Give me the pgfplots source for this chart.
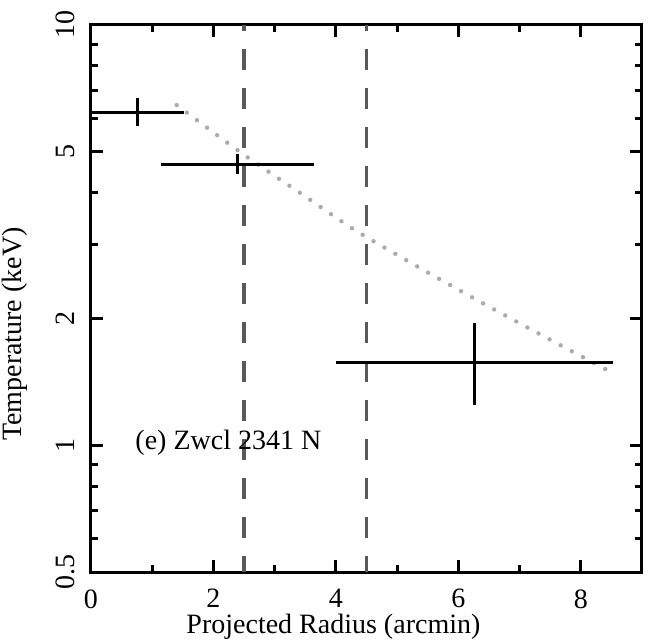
\documentclass[border=0pt]{standalone}
\usepackage{fontspec}
\setmainfont{Liberation Serif}
\usepackage{pgfplots}
\pgfplotsset{compat=1.18}
\begin{document}
\fontsize{14}{16}\selectfont
\begin{tikzpicture}
\begin{semilogyaxis}[
  width=275.5pt, height=273.5pt, scale only axis,
  xmin=0, xmax=9, ymin=0.5, ymax=10,
  axis line style={line width=1.5pt},
  every tick/.style={line width=1.5pt, black},
  major tick length=6pt, minor tick length=3.5pt,
  tick align=inside,
  xtick={0,2,4,6,8}, minor xtick={1,3,5,7},
  ytick={0.5,1,2,5,10}, yticklabels={0.5,1,2,5,10},
  minor ytick={0.6,0.7,0.8,0.9,3,4,6,7,8,9},
  /pgf/number format/assume math mode=true,
  tick label style={font=\fontsize{14}{16}\selectfont},
  xticklabel style={inner sep=0pt, anchor=north, yshift=-8.5pt},
  yticklabel style={xshift=-8pt, rotate=90, anchor=south, inner sep=0pt},
  label style={font=\fontsize{14}{16}\selectfont},
  xlabel={Projected Radius (arcmin)},
  ylabel={Temperature (keV)},
  xlabel style={at={(axis description cs:0.44,0)}, anchor=north, inner sep=0pt, yshift=-21pt},
  ylabel style={at={(axis description cs:-0.138,0.435)}, anchor=center},
  clip=false,
]
% model curve
\addplot[black!33, line width=2.2pt, line cap=round, dash pattern=on 0pt off 6.3pt, smooth, tension=0.4]
  coordinates {(1.4,6.45)(2.5,4.91)(3.4,4.0)(4.3,3.26)(5.3,2.68)(6.25,2.24)(7.3,1.85)(8.4,1.52)};
% region boundaries
\addplot[black!65, line width=1.6pt, dash pattern=on 10.5pt off 9pt, dash phase=7.3pt]
  coordinates {(2.5,10)(2.5,0.5)};
\addplot[black!65, line width=1.6pt, dash pattern=on 10.5pt off 9pt, dash phase=7.3pt]
  coordinates {(4.5,10)(4.5,0.5)};
% measured temperatures
\addplot[draw=none, mark=none,
  error bars/.cd, x dir=both, x explicit, y dir=both, y explicit,
  error mark=none, error bar style={line width=1.5pt, black}]
  table[x=x, y=y, x error plus=exp, x error minus=exm, y error plus=eyp, y error minus=eym] {
  x     y      exp   exm   eyp   eym
  0.76  6.20   0.76  0.76  0.51  0.44
  2.39  4.67   1.25  1.25  0.26  0.26
  6.27  1.577  2.26  2.27  0.38  0.33
};
\node[anchor=base west, inner sep=0pt, font=\fontsize{14}{16}\selectfont] at (axis cs:0.72,0.98) {(e) Zwcl 2341 N};
\coordinate (llc) at (rel axis cs:0,0);
\coordinate (urc) at (rel axis cs:1,1);
\end{semilogyaxis}
\pgfresetboundingbox
\path (llc) ++(-45.5pt,-35.5pt) rectangle ([xshift=3pt, yshift=12.5pt]urc);
\end{tikzpicture}
\end{document}
